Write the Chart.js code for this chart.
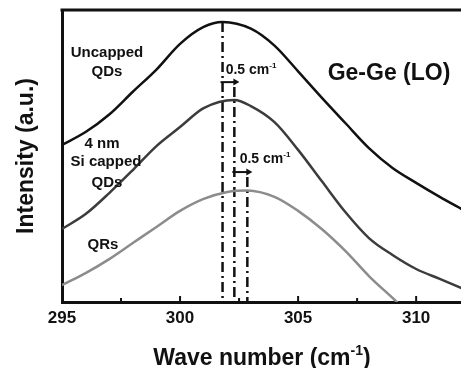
<!DOCTYPE html>
<html>
<head>
<meta charset="utf-8">
<script src="https://cdn.jsdelivr.net/npm/chart.js@4"></script>
<style>
  html, body { margin: 0; padding: 0; background: #fff; }
  #wrap { width: 461px; height: 368px; position: relative; }
</style>
</head>
<body>
<div id="wrap"><canvas id="raman"></canvas></div>
<script>
// Raman spectra, Ge-Ge (LO) band
const waveUncapped = [295, 296, 297, 298, 299, 300, 301, 301.8, 303, 304, 305, 306, 307, 308, 309, 310, 311, 312];
const uncapped     = [53.8, 58.2, 64.2, 72.0, 79.6, 88.4, 94.2, 95.9, 93.6, 87.8, 79.0, 70.0, 61.3, 52.7, 45.9, 40.8, 36.0, 31.5];

const waveCapped = [295, 296, 297, 298, 299, 300, 301, 302.3, 303, 304, 305, 306, 307, 308, 309, 310, 311, 312];
const capped     = [25.0, 30.1, 37.3, 45.2, 53.4, 59.9, 66.4, 69.2, 67.1, 61.6, 52.1, 41.4, 30.8, 21.9, 16.1, 11.3, 7.9, 4.5];

const waveQRs = [295, 296, 297, 298, 299, 300, 301, 302, 302.85, 304, 305, 306, 307, 308, 309, 310];
const qrs     = [5.8, 9.9, 14.7, 20.2, 25.7, 31.2, 35.3, 37.7, 38.2, 36.0, 31.2, 25.0, 17.5, 8.9, 1.4, -6.2];

// peak positions (dash-dot markers) and the 0.5 cm-1 shift arrows
const peakWave = [301.8, 302.3, 302.85];
const peakTop  = [95.9, 73.6, 42.8];
const shiftLevel = [75.3, 44.5];

const xTicks = [295, 300, 305, 310];

const pts = (xs, ys) => xs.map((x, i) => ({ x: x, y: ys[i] }));

const curveStyle = (color) => ({
    borderColor: color,
    borderWidth: 2.5,
    pointRadius: 0,
    fill: false,
    cubicInterpolationMode: 'monotone',
    clip: 0
});

const peakSets = peakWave.map((w, i) => ({
    data: [{ x: w, y: peakTop[i] }, { x: w, y: 0 }],
    borderColor: '#111',
    borderWidth: 2.5,
    borderDash: [10, 4, 2, 4],
    pointRadius: 0,
    clip: 0
}));

const FONT = '"Liberation Sans", Arial, sans-serif';

function supText(ctx, parts, cx, y, size) {
    // parts: [text, superscript, text]
    ctx.font = 'bold ' + size + 'px ' + FONT;
    const w1 = ctx.measureText(parts[0]).width;
    const w3 = ctx.measureText(parts[2]).width;
    ctx.font = 'bold ' + Math.round(size * 0.6) + 'px ' + FONT;
    const w2 = ctx.measureText(parts[1]).width;
    let x = cx - (w1 + w2 + w3) / 2;
    ctx.textAlign = 'left';
    ctx.textBaseline = 'alphabetic';
    ctx.font = 'bold ' + size + 'px ' + FONT;
    ctx.fillText(parts[0], x, y);
    x += w1;
    ctx.font = 'bold ' + Math.round(size * 0.6) + 'px ' + FONT;
    ctx.fillText(parts[1], x, y - size * 0.42);
    x += w2;
    ctx.font = 'bold ' + size + 'px ' + FONT;
    ctx.fillText(parts[2], x, y);
}

const decor = {
    id: 'decor',
    afterDraw(chart) {
        const ctx = chart.ctx;
        const a = chart.chartArea;
        const sx = chart.scales.x, sy = chart.scales.y;
        ctx.save();
        ctx.strokeStyle = '#111';
        ctx.fillStyle = '#111';

        // top frame line
        ctx.lineWidth = 3;
        ctx.beginPath();
        ctx.moveTo(a.left - 1.5, a.top);
        ctx.lineTo(a.right, a.top);
        ctx.stroke();

        // inward x ticks
        ctx.lineWidth = 2;
        sx.ticks.forEach(t => {
            const px = sx.getPixelForValue(t.value);
            const len = (t.value % 5 === 0) ? 6 : 4;
            ctx.beginPath();
            ctx.moveTo(px, a.bottom);
            ctx.lineTo(px, a.bottom - len);
            ctx.stroke();
        });

        // shift arrows
        shiftLevel.forEach((lvl, i) => {
            const x0 = sx.getPixelForValue(peakWave[i]) - 2;
            const x1 = sx.getPixelForValue(peakWave[i + 1]) + 5;
            const y = sy.getPixelForValue(lvl);
            ctx.lineWidth = 2;
            ctx.beginPath();
            ctx.moveTo(x0, y);
            ctx.lineTo(x1 - 3, y);
            ctx.stroke();
            ctx.beginPath();
            ctx.moveTo(x1, y);
            ctx.lineTo(x1 - 6, y - 3.5);
            ctx.lineTo(x1 - 6, y + 3.5);
            ctx.closePath();
            ctx.fill();
        });

        // shift labels
        supText(ctx, ['0.5 cm', '-1', ''], 251, 74, 14);
        supText(ctx, ['0.5 cm', '-1', ''], 265, 163, 14);

        // series labels
        ctx.textAlign = 'center';
        ctx.textBaseline = 'alphabetic';
        ctx.font = 'bold 15px ' + FONT;
        ctx.fillText('Uncapped', 107, 57);
        ctx.fillText('QDs', 107, 76);
        ctx.fillText('4 nm', 102, 148);
        ctx.fillText('Si capped', 106, 166);
        ctx.fillText('QDs', 107, 187);
        ctx.fillText('QRs', 103, 249);

        ctx.font = 'bold 23px ' + FONT;
        ctx.fillText('Ge-Ge (LO)', 389, 80);

        // axis titles
        supText(ctx, ['Wave number (cm', '-1', ')'], 262, 365, 23);

        ctx.translate(27, 156);
        ctx.rotate(-Math.PI / 2);
        ctx.textAlign = 'center';
        ctx.textBaseline = 'middle';
        ctx.font = 'bold 23px ' + FONT;
        ctx.fillText('Intensity (a.u.)', 0, 0);
        ctx.restore();
    }
};

new Chart(document.getElementById('raman'), {
    type: 'line',
    data: {
        datasets: [
            Object.assign({ label: 'Uncapped QDs', data: pts(waveUncapped, uncapped) }, curveStyle('#111111')),
            Object.assign({ label: '4 nm Si capped QDs', data: pts(waveCapped, capped) }, curveStyle('#3c3c3c')),
            Object.assign({ label: 'QRs', data: pts(waveQRs, qrs) }, curveStyle('#8c8c8c')),
            ...peakSets
        ]
    },
    options: {
        responsive: true,
        maintainAspectRatio: false,
        animation: false,
        layout: { padding: { left: 62, top: 10, right: 0, bottom: 0 } },
        plugins: {
            legend: { display: false },
            tooltip: { enabled: false }
        },
        scales: {
            x: {
                type: 'linear',
                min: 295,
                max: 311.9,
                afterFit: s => { s.height = 66; },
                grid: { display: true, drawOnChartArea: false, drawTicks: false },
                border: { display: true, color: '#111', width: 3 },
                ticks: {
                    stepSize: 2.5,
                    includeBounds: false,
                    autoSkip: false,
                    maxRotation: 0,
                    padding: 6,
                    color: '#111',
                    font: { family: FONT, size: 17, weight: 'bold' },
                    callback: v => (xTicks.includes(v) ? String(v) : '')
                }
            },
            y: {
                min: 0,
                max: 100,
                afterFit: s => { s.width = 0; },
                grid: { display: false, drawTicks: false },
                border: { display: true, color: '#111', width: 3 },
                ticks: { display: false }
            }
        }
    },
    plugins: [decor]
});
</script>
</body>
</html>
